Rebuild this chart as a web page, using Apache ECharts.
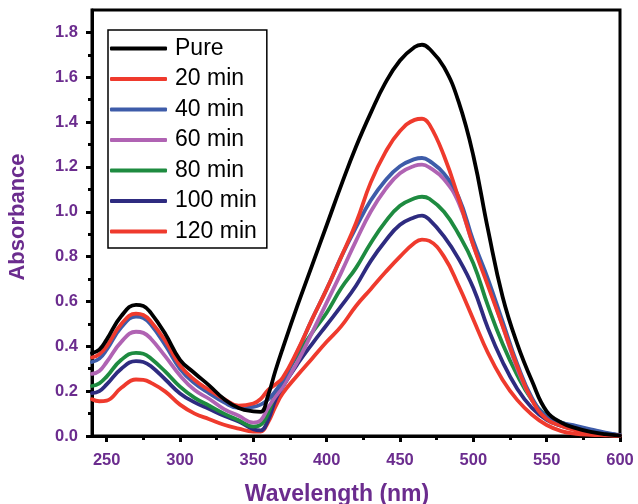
<!DOCTYPE html>
<html><head><meta charset="utf-8">
<script src="https://cdn.jsdelivr.net/npm/echarts@6/dist/echarts.min.js"></script>
<style>html,body{margin:0;padding:0;background:#fff}#c{width:638px;height:504px}</style>
</head><body><div id="c"></div>
<script>
const wavelengths = [240,245,250,260,270,275,280,290,300,310,320,330,340,350,355,360,365,370,380,390,400,410,420,430,440,450,460,465,470,480,490,500,510,520,530,540,550,560,570,580,590,600];
const pure   = [0.37,0.385,0.43,0.535,0.585,0.58,0.55,0.455,0.34,0.28,0.225,0.165,0.125,0.11,0.108,0.18,0.29,0.39,0.58,0.76,0.94,1.12,1.29,1.44,1.575,1.675,1.735,1.745,1.727,1.645,1.49,1.25,0.92,0.62,0.41,0.245,0.11,0.06,0.035,0.018,0.008,0.002];
const min20  = [0.35,0.365,0.40,0.50,0.546,0.54,0.512,0.425,0.315,0.25,0.205,0.165,0.135,0.145,0.165,0.205,0.23,0.26,0.38,0.52,0.655,0.80,0.95,1.13,1.265,1.36,1.41,1.415,1.39,1.25,1.06,0.85,0.67,0.49,0.31,0.16,0.075,0.045,0.025,0.012,0.005,0.002];
const min40  = [0.33,0.345,0.385,0.485,0.532,0.526,0.498,0.405,0.30,0.235,0.19,0.15,0.125,0.13,0.14,0.162,0.20,0.245,0.375,0.52,0.655,0.80,0.93,1.05,1.14,1.203,1.235,1.24,1.227,1.17,1.065,0.87,0.70,0.51,0.32,0.17,0.086,0.06,0.045,0.03,0.015,0.004];
const min60  = [0.277,0.29,0.33,0.42,0.465,0.46,0.435,0.355,0.27,0.205,0.165,0.12,0.09,0.06,0.07,0.125,0.175,0.22,0.33,0.46,0.595,0.73,0.87,1.0,1.10,1.172,1.205,1.21,1.198,1.145,1.04,0.85,0.68,0.49,0.30,0.16,0.08,0.05,0.035,0.02,0.01,0.003];
const min80  = [0.223,0.235,0.265,0.34,0.371,0.367,0.347,0.287,0.22,0.17,0.135,0.10,0.07,0.042,0.05,0.10,0.19,0.25,0.36,0.46,0.55,0.66,0.75,0.86,0.955,1.027,1.06,1.067,1.058,1.0,0.90,0.77,0.58,0.41,0.27,0.16,0.09,0.06,0.04,0.025,0.012,0.003];
const min100 = [0.191,0.20,0.23,0.30,0.334,0.33,0.312,0.252,0.19,0.15,0.12,0.09,0.065,0.03,0.025,0.07,0.16,0.22,0.32,0.41,0.495,0.58,0.67,0.78,0.87,0.942,0.976,0.983,0.965,0.89,0.79,0.66,0.48,0.33,0.21,0.125,0.072,0.045,0.03,0.02,0.01,0.003];
const min120 = [0.164,0.155,0.158,0.215,0.252,0.25,0.238,0.198,0.14,0.10,0.075,0.05,0.033,0.02,0.02,0.06,0.13,0.19,0.27,0.345,0.42,0.49,0.58,0.655,0.73,0.80,0.862,0.876,0.87,0.80,0.67,0.52,0.37,0.25,0.16,0.095,0.049,0.022,0.01,0.005,0.003,0.001];
const seriesNames = ['Pure','20 min','40 min','60 min','80 min','100 min','120 min'];
const seriesValues = [pure,min20,min40,min60,min80,min100,min120];
const xTicks = [250,300,350,400,450,500,550,600];
const xMinorTicks = [275,325,375,425,475,525,575];
const yTicks = [0,0.2,0.4,0.6,0.8,1.0,1.2,1.4,1.6,1.8];
const yMinorTicks = [0.1,0.3,0.5,0.7,0.9,1.1,1.3,1.5,1.7];

const colors = ['#000000','#ef3a2d','#3e5ca9','#b063b3','#1e8b40','#2e2b80','#ef3a2d'];
const purple = '#6b2c8e';
const font = 'Liberation Sans, Arial, sans-serif';

const chart = echarts.init(document.getElementById('c'));
chart.setOption({
  animation:false,
  backgroundColor:'#fff',
  grid:{left:92,right:18,top:10,bottom:68,containLabel:false,outerBoundsMode:'none',show:true,borderColor:'#000',borderWidth:3,backgroundColor:'transparent'},
  legend:{
    orient:'vertical', left:108, top:30, itemWidth:57, itemHeight:4, itemGap:7.5, icon:'roundRect',
    data:seriesNames,
    textStyle:{fontFamily:font,fontSize:23,lineHeight:22,color:'#000',padding:[0,0,0,3]},
    borderColor:'#000', borderWidth:1.5, padding:[7,10,5,2], backgroundColor:'#fff'
  },
  xAxis:[{
    type:'value', min:240, max:600, position:'bottom',
    name:'Wavelength (nm)', nameLocation:'middle', nameGap:47,
    nameTextStyle:{fontFamily:font,fontSize:23,fontWeight:'bold',color:purple,padding:[0,38,0,0]},
    axisLine:{show:true,lineStyle:{color:'#000',width:3}},
    axisTick:{show:true,inside:false,length:6,lineStyle:{color:'#000',width:3},customValues:xTicks},
    axisLabel:{customValues:xTicks,margin:16,fontFamily:font,fontSize:16.5,fontWeight:'bold',color:purple},
    splitLine:{show:false}
  },{
    type:'value', min:240, max:600, position:'bottom',
    axisLine:{show:false},
    axisTick:{show:true,inside:false,length:4,lineStyle:{color:'#000',width:3},customValues:xMinorTicks},
    axisLabel:{show:false}, splitLine:{show:false}
  }],
  yAxis:[{
    type:'value', min:0, max:1.9, position:'left',
    name:'Absorbance', nameLocation:'middle', nameGap:63, nameRotate:90,
    nameTextStyle:{fontFamily:font,fontSize:22,fontWeight:'bold',color:purple,padding:[0,0,0,12]},
    axisLine:{show:true,lineStyle:{color:'#000',width:3}},
    axisTick:{show:true,inside:false,length:6,lineStyle:{color:'#000',width:3},customValues:yTicks},
    axisLabel:{customValues:yTicks,margin:14,fontFamily:font,fontSize:16.5,fontWeight:'bold',color:purple,formatter:v=>v.toFixed(1)},
    splitLine:{show:false}
  },{
    type:'value', min:0, max:1.9, position:'left',
    axisLine:{show:false},
    axisTick:{show:true,inside:false,length:4,lineStyle:{color:'#000',width:3},customValues:yMinorTicks},
    axisLabel:{show:false}, splitLine:{show:false}
  }],
  series: seriesNames.map((n,i)=>({
    name:n, type:'line', xAxisIndex:0, yAxisIndex:0,
    data: wavelengths.map((w,j)=>[w,seriesValues[i][j]]),
    smooth:0.45, showSymbol:false, symbol:'none', clip:true,
    lineStyle:{color:colors[i],width:3.8,cap:'round',join:'round'},
    itemStyle:{color:colors[i]},
    z: 10-i
  }))
});
</script></body></html>
